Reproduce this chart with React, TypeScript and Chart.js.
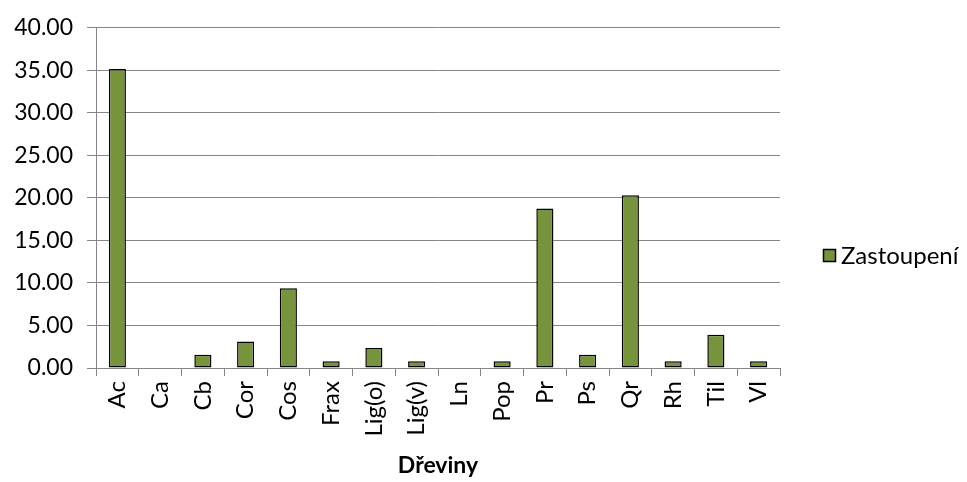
import React, { useEffect, useRef } from "react";
import { Chart, registerables } from "chart.js";

Chart.register(...registerables);

const categories = ["Ac", "Ca", "Cb", "Cor", "Cos", "Frax", "Lig(o)", "Lig(v)", "Ln", "Pop", "Pr", "Ps", "Qr", "Rh", "Til", "Vl"];
const values = [35.16, 0, 1.56, 3.13, 9.38, 0.78, 2.34, 0.78, 0, 0.78, 18.75, 1.56, 20.31, 0.78, 3.91, 0.78];
const seriesLabel = "Zastoupení";
const axisTitle = "Dřeviny";

const FONT = "Lato";
const GRID = "#868686";
const BAR = "#77933C";

const legendPlugin = {
  id: "customLegend",
  afterDraw(chart: any) {
    const ctx = chart.ctx;
    const ds = chart.data.datasets[0];
    const x = 823;
    const y = 249;
    ctx.save();
    ctx.fillStyle = ds.backgroundColor;
    ctx.fillRect(x, y, 13, 13);
    ctx.strokeStyle = "#000";
    ctx.lineWidth = 1.5;
    ctx.strokeRect(x + 0.5, y + 0.5, 12, 12);
    ctx.fillStyle = "#000";
    ctx.font = `24px ${FONT}`;
    ctx.textBaseline = "middle";
    ctx.textAlign = "left";
    ctx.fillText(ds.label, 841, y + 7);
    ctx.restore();
  },
};

export default function App() {
  const ref = useRef<HTMLCanvasElement>(null);
  useEffect(() => {
    const chart = new Chart(ref.current!, {
      type: "bar",
      data: {
        labels: categories,
        datasets: [
          {
            label: seriesLabel,
            data: values,
            backgroundColor: BAR,
            borderColor: "#000",
            borderWidth: 1.5,
            borderSkipped: false,
            barPercentage: 0.4,
            categoryPercentage: 1,
          },
        ],
      },
      options: {
        responsive: false,
        animation: false,
        layout: { padding: { left: 0, right: 187, top: 23, bottom: 0 } },
        plugins: { legend: { display: false }, tooltip: { enabled: false } },
        scales: {
          x: {
            offset: true,
            grid: {
              offset: true,
              drawOnChartArea: false,
              drawTicks: true,
              tickLength: 8,
              color: GRID,
            },
            border: { color: GRID },
            ticks: {
              minRotation: 90,
              maxRotation: 90,
              autoSkip: false,
              padding: 5,
              color: "#000",
              font: { family: FONT, size: 24 },
            },
            title: {
              display: true,
              text: axisTitle,
              color: "#000",
              font: { family: FONT, size: 23, weight: "bold" },
              padding: { top: 0, bottom: 3 },
            },
            afterFit: (s: any) => {
              s.height = 114;
            },
          },
          y: {
            min: 0,
            max: 40,
            grid: { color: GRID, tickLength: 9 },
            border: { color: GRID },
            ticks: {
              stepSize: 5,
              padding: 14,
              color: "#000",
              font: { family: FONT, size: 23 },
              callback: (v: any) => Number(v).toFixed(2),
            },
            afterFit: (s: any) => {
              s.width = 96;
            },
          },
        },
      },
      plugins: [legendPlugin],
    });
    return () => chart.destroy();
  }, []);
  return (
    <div style={{ position: "fixed", left: 0, top: 0, width: 967, height: 482, background: "#fff" }}>
      <canvas ref={ref} width={967} height={482} />
    </div>
  );
}
